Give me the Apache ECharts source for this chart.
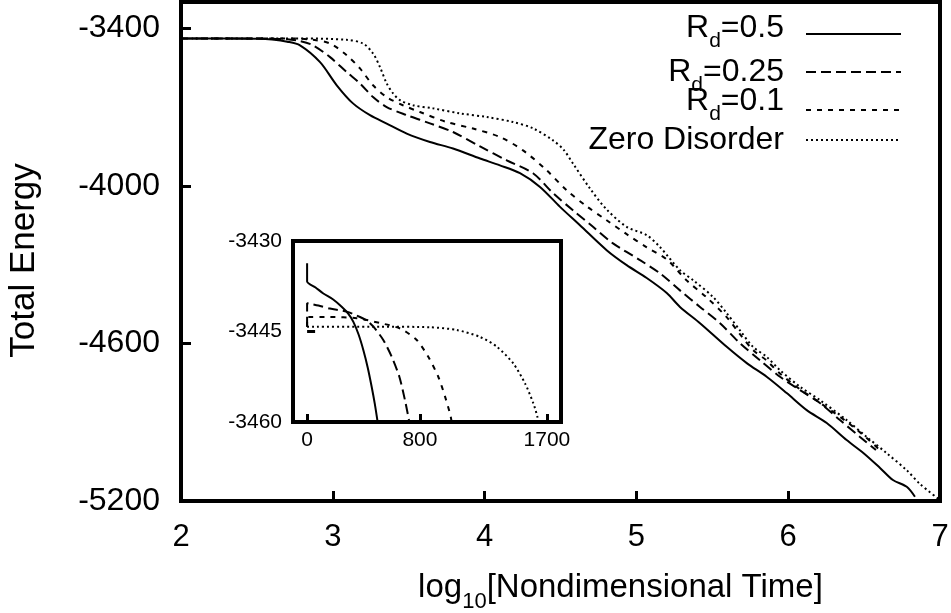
<!DOCTYPE html>
<html>
<head>
<meta charset="utf-8">
<script src="https://cdn.jsdelivr.net/npm/echarts@6/dist/echarts.min.js"></script>
<style>
  html, body { margin: 0; padding: 0; background: #fff; }
  #main { width: 951px; height: 613px; }
</style>
</head>
<body>
<div id="main"></div>
<script>
// main plot: [log10 time, total energy]
var rd05Main = [[2,-3439],[2.3,-3439],[2.5,-3440],[2.6,-3443],[2.7,-3451],[2.784,-3465],[2.916,-3529],[3.026,-3617],[3.133,-3686],[3.245,-3731],[3.355,-3763],[3.487,-3801],[3.64,-3833],[3.792,-3858],[3.97,-3896],[4.101,-3922],[4.233,-3952],[4.365,-4004],[4.497,-4080],[4.628,-4150],[4.804,-4245],[4.936,-4302],[5.068,-4351],[5.2,-4408],[5.287,-4461],[5.419,-4523],[5.595,-4613],[5.727,-4675],[5.858,-4727],[5.99,-4789],[6.122,-4854],[6.254,-4903],[6.385,-4968],[6.495,-5017],[6.605,-5074],[6.69,-5120],[6.781,-5146],[6.835,-5184]];
var rd025Main = [[2,-3439],[2.5,-3439],[2.7,-3442],[2.784,-3449],[2.87,-3465],[2.982,-3510],[3.092,-3567],[3.179,-3610],[3.265,-3662],[3.355,-3700],[3.487,-3731],[3.64,-3762],[3.792,-3795],[3.97,-3850],[4.146,-3903],[4.319,-3952],[4.451,-4028],[4.582,-4093],[4.714,-4156],[4.846,-4219],[5.024,-4283],[5.155,-4333],[5.287,-4398],[5.419,-4461],[5.551,-4523],[5.682,-4599],[5.814,-4664],[5.946,-4727],[6.078,-4778],[6.209,-4827],[6.341,-4892],[6.473,-4956],[6.578,-5006]];
var rd01Main = [[2,-3439],[2.75,-3439],[2.87,-3444],[2.982,-3458],[3.092,-3503],[3.179,-3553],[3.265,-3617],[3.355,-3662],[3.462,-3693],[3.574,-3719],[3.75,-3757],[3.924,-3782],[4.101,-3814],[4.253,-3865],[4.409,-3941],[4.541,-4017],[4.672,-4078],[4.804,-4131],[4.936,-4184],[5.068,-4234],[5.2,-4280],[5.331,-4360],[5.463,-4425],[5.595,-4500],[5.682,-4565],[5.768,-4625],[5.858,-4665],[5.946,-4715],[6.078,-4775],[6.209,-4826],[6.385,-4898],[6.517,-4960],[6.592,-5000]];
var zeroMain = [[2,-3439],[2.8,-3439],[3.092,-3444],[3.199,-3458],[3.265,-3496],[3.311,-3548],[3.355,-3610],[3.397,-3648],[3.443,-3674],[3.528,-3693],[3.66,-3705],[3.838,-3724],[4.014,-3738],[4.187,-3757],[4.319,-3781],[4.451,-3827],[4.52,-3862],[4.582,-3915],[4.694,-4010],[4.804,-4090],[4.936,-4156],[5.068,-4188],[5.155,-4233],[5.287,-4321],[5.373,-4359],[5.505,-4423],[5.595,-4485],[5.682,-4550],[5.768,-4613],[5.858,-4651],[5.946,-4702],[6.078,-4765],[6.209,-4816],[6.385,-4892],[6.517,-4956],[6.649,-5018],[6.781,-5083],[6.868,-5135],[7,-5197]];

// inset: [time, total energy]
var rd05Inset = [[0,-3433.7],[0,-3436.7],[60,-3437.7],[115,-3438.7],[185,-3439.7],[245,-3440.9],[290,-3442],[328,-3443.4],[365,-3445.5],[399,-3448.1],[430,-3451],[458,-3454.2],[480,-3457],[498,-3459.7],[505,-3461]];
var rd025Inset = [[0,-3444.2],[0,-3440.3],[80,-3440.7],[162,-3441.2],[281,-3441.7],[375,-3442.6],[430,-3443.3],[470,-3444.2],[540,-3446.4],[600,-3449.2],[654,-3452.5],[694,-3456.4],[722,-3459.7],[730,-3461]];
var rd01Inset = [[0,-3444.2],[0,-3442.6],[162,-3442.6],[352,-3442.8],[517,-3443.6],[659,-3444.5],[777,-3446.4],[859,-3449.2],[930,-3452.5],[978,-3455.8],[1018,-3459.1],[1030,-3461]];
var zeroInset = [[0,-3444.2],[517,-3444.2],[873,-3444.3],[1061,-3444.75],[1226,-3445.9],[1344,-3447.5],[1462,-3450.3],[1545,-3453.6],[1604,-3456.9],[1632,-3459.1],[1645,-3461]];

var seriesNames = ['R_d=0.5', 'R_d=0.25', 'R_d=0.1', 'Zero Disorder'];
var legendLabels = ['{a|R}{s|d}{a|=0.5}', '{a|R}{s|d}{a|=0.25}', '{a|R}{s|d}{a|=0.1}', '{a|Zero Disorder}'];
var mainXTicks = [2, 3, 4, 5, 6, 7];
var mainYTicks = [-5200, -4600, -4000, -3400];
var insetXTicks = [0, 800, 1700];
var insetYTicks = [-3460, -3445, -3430];

var FONT = '"Liberation Sans", Arial, Helvetica, sans-serif';
var dashes = ['solid', [10, 5], [5, 6], [2, 3]];
var mainData = [rd05Main, rd025Main, rd01Main, zeroMain];
var insetData = [rd05Inset, rd025Inset, rd01Inset, zeroInset];
var plain = function (v) { return String(v); };

var chart = echarts.init(document.getElementById('main'), null, { renderer: 'canvas' });

var series = [];
for (var i = 0; i < 4; i++) {
  series.push({
    name: seriesNames[i], type: 'line', xAxisIndex: 0, yAxisIndex: 0,
    data: mainData[i], showSymbol: false, symbol: 'none', smooth: 0.3,
    itemStyle: { color: '#000' },
    lineStyle: { color: '#000', width: 2, type: dashes[i] }, animation: false
  });
  series.push({
    name: seriesNames[i], type: 'line', xAxisIndex: 1, yAxisIndex: 1,
    data: insetData[i], showSymbol: false, symbol: 'none', smooth: 0.25,
    itemStyle: { color: '#000' },
    lineStyle: { color: '#000', width: 2, type: dashes[i] }, animation: false
  });
}

// one legend per row, gnuplot style (text left, sample right)
var legendTops = [12, 56, 85, 124];
var legendShift = [12, 0, 18, 0];
var legends = [];
for (var j = 0; j < 4; j++) {
  (function (k) {
    legends.push({
      data: [seriesNames[k]], right: 49, top: legendTops[k], orient: 'vertical', align: 'right',
      padding: 0, itemWidth: 95, itemHeight: 12, selectedMode: false,
      itemStyle: { opacity: 0 },
      formatter: function () { return legendLabels[k]; },
      textStyle: {
        padding: [0, 17, legendShift[k], 0],
        rich: {
          a: { fontSize: 32, fontFamily: FONT, color: '#000' },
          s: { fontSize: 21, fontFamily: FONT, color: '#000', padding: [26, 0, 0, 0] }
        }
      }
    });
  })(j);
}

var option = {
  backgroundColor: '#fff',
  animation: false,
  legend: legends,
  grid: [
    { left: 181, top: 2, width: 759, height: 499, outerBoundsMode: 'none', show: true, borderColor: '#000', borderWidth: 4, backgroundColor: 'transparent' },
    { left: 293, top: 241, width: 268, height: 181, outerBoundsMode: 'none', show: true, borderColor: '#000', borderWidth: 4, backgroundColor: '#fff' }
  ],
  xAxis: [
    {
      type: 'value', gridIndex: 0, min: 2, max: 7, interval: 1,
      name: '{a|log}{s|10}{a|[Nondimensional Time]}', nameLocation: 'middle', nameGap: 62,
      nameTextStyle: {
        padding: [0, 0, 0, 120],
        rich: {
          a: { fontSize: 33, fontFamily: FONT, color: '#000' },
          s: { fontSize: 22, fontFamily: FONT, color: '#000', padding: [28, 0, 0, 0] }
        }
      },
      axisLine: { show: false },
      axisTick: { inside: true, length: 10, lineStyle: { color: '#000', width: 3 } },
      axisLabel: { margin: 21, fontSize: 31, fontFamily: FONT, color: '#000', customValues: mainXTicks, formatter: plain },
      splitLine: { show: false }
    },
    {
      type: 'value', gridIndex: 1, min: -100, max: 1800,
      axisLine: { show: false },
      axisTick: { inside: true, length: 8, lineStyle: { color: '#000', width: 3 }, customValues: insetXTicks },
      axisLabel: { margin: 8, fontSize: 21, fontFamily: FONT, color: '#000', customValues: insetXTicks, formatter: plain },
      splitLine: { show: false }
    }
  ],
  yAxis: [
    {
      type: 'value', gridIndex: 0, min: -5200, max: -3300,
      name: 'Total Energy', nameLocation: 'middle', nameGap: 139,
      nameTextStyle: { fontSize: 35, fontFamily: FONT, color: '#000', padding: [0, 18, 0, 0] },
      axisLine: { show: false },
      axisTick: { inside: true, length: 10, lineStyle: { color: '#000', width: 3 }, customValues: mainYTicks },
      axisLabel: { margin: 21, fontSize: 32, fontFamily: FONT, color: '#000', customValues: mainYTicks, formatter: plain },
      splitLine: { show: false }
    },
    {
      type: 'value', gridIndex: 1, min: -3460, max: -3430,
      axisLine: { show: false },
      axisTick: { inside: true, length: 8, lineStyle: { color: '#000', width: 3 }, customValues: insetYTicks },
      axisLabel: { margin: 11, fontSize: 21, fontFamily: FONT, color: '#000', customValues: insetYTicks, formatter: plain },
      splitLine: { show: false }
    }
  ],
  series: series
};
chart.setOption(option);
</script>
</body>
</html>
